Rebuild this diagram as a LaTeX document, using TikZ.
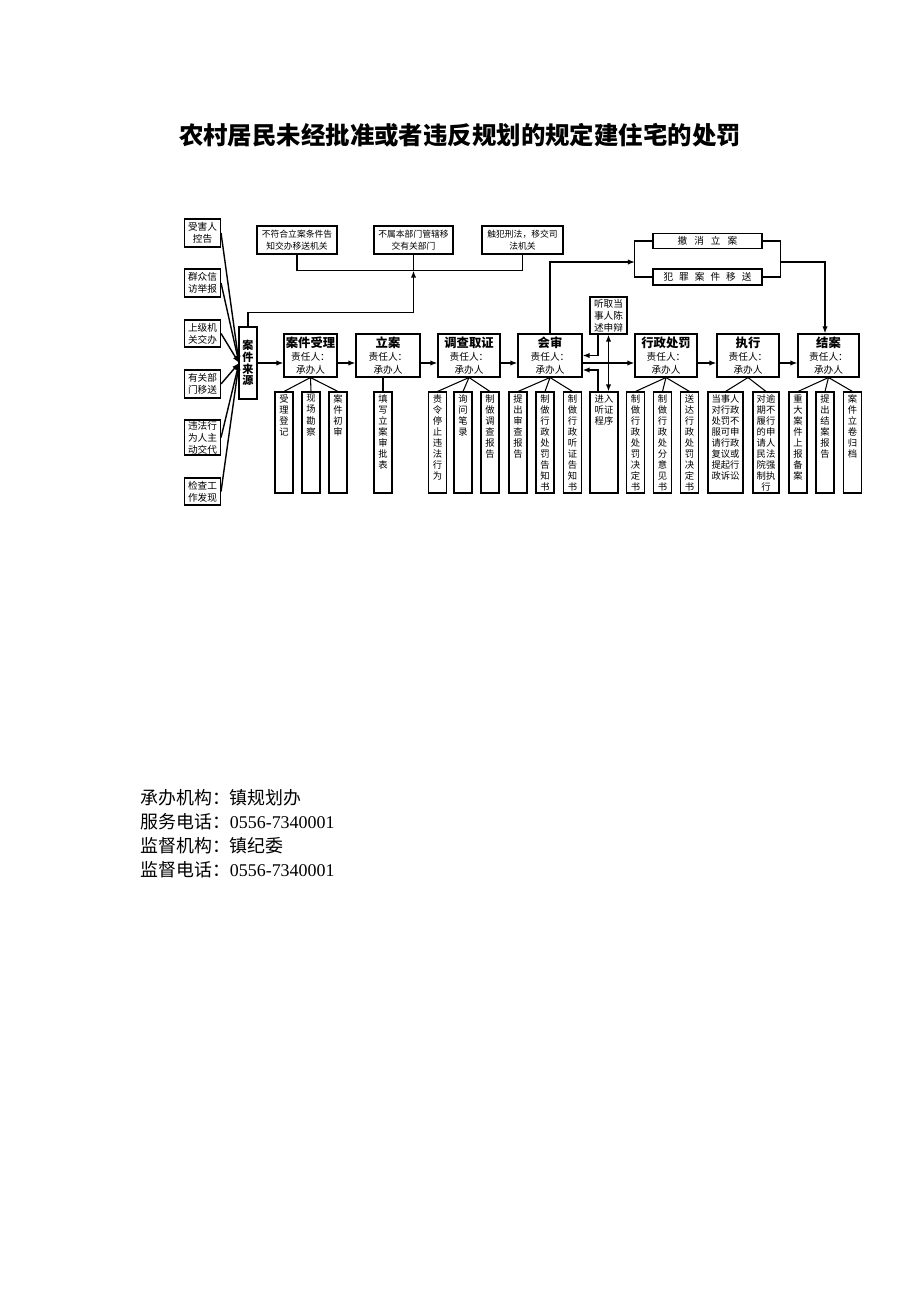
\documentclass[tikz,border=0pt]{standalone}
\usepackage{fontspec}
\setmainfont{Noto Sans CJK SC}
\newfontfamily\numf{Liberation Serif}
\XeTeXlinebreaklocale "zh"
\XeTeXlinebreakskip=0pt plus 1pt
\usetikzlibrary{arrows.meta}
\newlength\pxl
\setlength\pxl{0.02cm}
\newcommand\vcol[2][1.3em]{\parbox[t][96\pxl][t]{#1}{\centering #2}}
\newcommand\mt[1]{{\fontsize{7}{8}\selectfont\bfseries #1}}
\begin{document}
\begin{tikzpicture}[x=0.02cm,y=-0.02cm]
\tikzset{every node/.style={inner sep=0pt,font=\fontsize{5.5}{6.8}\selectfont},
         box/.style={draw,line width=0.6pt,align=center},
         srcbox/.style={box,minimum width=36\pxl},
         mainbox/.style={box,minimum height=43\pxl,font=\fontsize{5.5}{7.2}\selectfont},
         sub/.style={box,minimum width=18\pxl,minimum height=101\pxl,font=\fontsize{5.3}{6.3}\selectfont},
         arr/.style={-{Latex[length=4pt,width=3pt]},line width=0.8pt},
         line/.style={line width=0.6pt}}
%\tikzset{every node/.style={draw,
%                            font=\small,
%                            minimum size=1cm
%                           }}
\useasboundingbox (0,0) rectangle (920,1302);

\node[font=\fontsize{13.9}{14}\selectfont\bfseries] (title) at (460,135)
    {农村居民未经批准或者违反规划的规定建住宅的处罚};

% case sources
\node[srcbox,minimum height=28\pxl] (s1) at (202.5,233)   {受害人\\控告};
\node[srcbox,minimum height=28\pxl] (s2) at (202.5,283)   {群众信\\访举报};
\node[srcbox,minimum height=27\pxl] (s3) at (202.5,333.5) {上级机\\关交办};
\node[srcbox,minimum height=28\pxl] (s4) at (202.5,384)   {有关部\\门移送};
\node[srcbox,minimum height=35\pxl] (s5) at (202.5,437.5) {违法行\\为人主\\动交代};
\node[srcbox,minimum height=27\pxl] (s6) at (202.5,491.5) {检查工\\作发现};
\node[box,minimum width=18\pxl,minimum height=72\pxl,
      font=\fontsize{6.3}{6.6}\selectfont\bfseries] (src) at (248,363) {案\\件\\来\\源};
\coordinate (cv) at (239,363);
\foreach \s in {s1,s2,s3,s4,s5,s6}
    \draw[arr] (\s.east) -- (cv);

% top boxes
\node[box,minimum width=80\pxl,minimum height=28\pxl,font=\fontsize{5}{6.8}\selectfont] (t1) at (297,240)
    {不符合立案条件告\\知交办移送机关};
\node[box,minimum width=79\pxl,minimum height=28\pxl,font=\fontsize{5}{6.8}\selectfont] (t2) at (413.5,240)
    {不属本部门管辖移\\交有关部门};
\node[box,minimum width=81\pxl,minimum height=28\pxl,font=\fontsize{5}{6.8}\selectfont] (t3) at (522.5,240)
    {触犯刑法，移交司\\法机关};
\draw[line] (t1.south) -- ++(0,16) -| (t3.south);
\draw[line] (t2.south) -- ++(0,16);
\draw[arr] (src.north) -- ++(0,-14) -| ([yshift=-16\pxl]t2.south);

% main row
\foreach \n/\x/\w/\t in {n1/310.5/53/案件受理, n2/388/64/立案, n3/469/62/调查取证,
                         n4/550/64/会审, n5/666/62/行政处罚, n6/748/62/执行, n7/828.5/61/结案}
    \node[mainbox,minimum width=\w\pxl] (\n) at (\x,355.5) {\mt{\t}\\责任人：\\承办人};
\coordinate (ya) at (0,363);
\draw[arr] (src.east |- ya) -- (n1.west |- ya);
\foreach \a/\b in {n1/n2, n2/n3, n3/n4, n4/n5, n5/n6, n6/n7}
    \draw[arr] (\a.east |- ya) -- (\b.west |- ya);

% hearing
\node[box,minimum width=37\pxl,minimum height=37\pxl] (hr) at (608.5,315.5) {听取当\\事人陈\\述申辩};
\node[sub,minimum width=28\pxl] (en) at (604,442.5) {\vcol[2.2em]{进入听证程序}};
\draw[{Latex[length=4pt,width=3pt]}-{Latex[length=4pt,width=3pt]},line width=0.8pt]
    (hr.south) -- (hr.south |- en.north);
\draw[arr] ([xshift=-10.5\pxl]hr.south) |- (n4.east);
\draw[arr] ([xshift=-6\pxl]en.north) |- ([yshift=-14.5\pxl]n4.east);

% revoke / transfer
\node[box,minimum width=109\pxl,minimum height=15\pxl] (cx) at (707.5,241)
    {撤\hspace{7\pxl}消\hspace{7\pxl}立\hspace{7\pxl}案};
\node[box,minimum width=109\pxl,minimum height=16\pxl] (fz) at (707.5,277)
    {犯\hspace{6\pxl}罪\hspace{6\pxl}案\hspace{6\pxl}件\hspace{6\pxl}移\hspace{6\pxl}送};
\coordinate (jl) at (635,262);
\coordinate (jr) at (780,262);
\draw[line] (cx.west) -- ++(-18,0) |- (fz.west);
\draw[line] (cx.east) -- ++(18,0) |- (fz.east);
\draw[arr] (n4.north) |- (jl);
\draw[arr] (jr) -| ([xshift=-3.5\pxl]n7.north);

% sub steps
\foreach \p/\n/\x/\t in {n1/a1/284/受理登记, n1/a2/311/现场勘察, n1/a3/338/案件初审,
                         n3/c1/437.5/责令停止违法行为, n3/c2/463/询问笔录, n3/c3/490/制做调查报告,
                         n4/d1/518/提出审查报告, n4/d2/545/制做行政处罚告知书, n4/d3/572.5/制做行政听证告知书,
                         n5/e1/635.5/制做行政处罚决定书, n5/e2/662.5/制做行政处分意见书, n5/e3/689.5/送达行政处罚决定书,
                         n7/g1/798/重大案件上报备案, n7/g2/825/提出结案报告, n7/g3/852.5/案件立卷归档}
{
    \node[sub] (\n) at (\x,442.5) {\vcol{\t}};
    \draw[line] (\p.south) -- (\n.north);
}
\node[sub] (b1) at (383,442.5) {\vcol{填写立案审批表}};
\draw[line] (b1.north) -- (b1.north |- n2.south);
\node[sub,minimum width=35\pxl] (f1) at (725.5,442.5) {\vcol[3.2em]{当事人对行政处罚不服可申请行政复议或提起行政诉讼}};
\node[sub,minimum width=26\pxl] (f2) at (766,442.5) {\vcol[2.2em]{对逾期不履行的申请人民法院强制执行}};
\draw[line] (n6.south) -- (f1.north);
\draw[line] (n6.south) -- (f2.north);

% footer
\node[anchor=west,font=\fontsize{10.2}{12}\selectfont] (org)  at (140,798) {承办机构：镇规划办};
\node[anchor=west,font=\fontsize{10.2}{12}\selectfont] (tel)  at (140,822) {服务电话：{\numf 0556-7340001}};
\node[anchor=west,font=\fontsize{10.2}{12}\selectfont] (sup)  at (140,846) {监督机构：镇纪委};
\node[anchor=west,font=\fontsize{10.2}{12}\selectfont] (stel) at (140,870) {监督电话：{\numf 0556-7340001}};
\end{tikzpicture}
\end{document}
